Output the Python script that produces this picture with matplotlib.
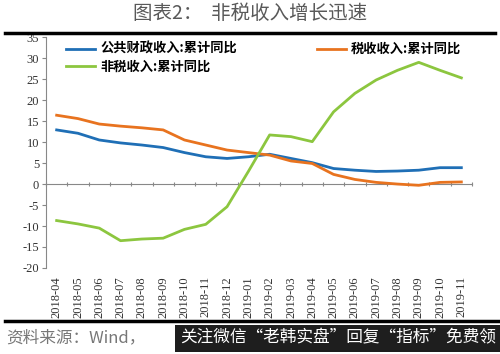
import matplotlib.pyplot as plt
import numpy as np

plt.rcParams["font.family"] = ["Noto Sans CJK SC", "DejaVu Sans"]

months = ["2018-04", "2018-05", "2018-06", "2018-07", "2018-08", "2018-09",
          "2018-10", "2018-11", "2018-12", "2019-01", "2019-02", "2019-03",
          "2019-04", "2019-05", "2019-06", "2019-07", "2019-08", "2019-09",
          "2019-10", "2019-11"]
public_rev = [12.9, 12.1, 10.5, 9.8, 9.3, 8.7, 7.5, 6.5, 6.1, 6.5,
              7.1, 6.1, 5.1, 3.7, 3.3, 3.0, 3.1, 3.3, 3.9, 3.9]
tax_rev = [16.4, 15.6, 14.3, 13.8, 13.4, 12.9, 10.5, 9.3, 8.1, 7.5,
           6.9, 5.5, 4.9, 2.3, 1.1, 0.4, 0.0, -0.3, 0.4, 0.5]
nontax_rev = [-8.7, -9.5, -10.5, -13.5, -13.1, -12.9, -10.8, -9.6, -5.4, 3.0,
              11.7, 11.3, 10.1, 17.2, 21.6, 24.8, 27.1, 29.0, 27.1, 25.3]
labels = ["公共财政收入:累计同比", "非税收入:累计同比", "税收收入:累计同比"]

fig = plt.figure(figsize=(5.0, 3.54), dpi=100)
ax = fig.add_axes([0.092, 0.243, 0.852, 0.652])

x = np.arange(len(months))
l1, = ax.plot(x, public_rev, color="#1f6fb6", lw=2.0, solid_joinstyle="round")
l3, = ax.plot(x, tax_rev, color="#e8731f", lw=2.0, solid_joinstyle="round")
l2, = ax.plot(x, nontax_rev, color="#8cc63f", lw=2.0, solid_joinstyle="round")

ax.set_xlim(-0.5, len(months) - 0.5)
ax.set_ylim(-20, 35)
ax.set_yticks(np.arange(-20, 36, 5))
ax.set_yticklabels([str(v) for v in range(-20, 36, 5)],
                   family="Liberation Serif", fontsize=9, color="#333333")
ax.set_xticks(x)
ax.set_xticklabels(months, rotation=90, family="Liberation Serif",
                   fontsize=9, color="#333333")
ax.tick_params(axis="x", length=0, pad=6)
ax.tick_params(axis="y", length=3, color="#888888", pad=2)
for s in ["top", "right", "bottom"]:
    ax.spines[s].set_visible(False)
ax.spines["left"].set_color("#888888")

# category axis crossing at zero
zero_ax = ax.secondary_xaxis(20 / 55)
zero_ax.set_xticks(np.arange(-0.5, len(months), 1.0))
zero_ax.set_xticklabels([])
zero_ax.tick_params(length=3, direction="inout", color="#888888")
zero_ax.spines["bottom"].set_color("#888888")

ax.legend([l1, l2, l3], labels, ncol=2, loc="upper left",
          bbox_to_anchor=(0.02, 1.03), frameon=False, handlelength=2.2,
          columnspacing=6.0, handletextpad=0.4, labelspacing=0.3,
          prop={"family": "Noto Sans CJK SC", "weight": "bold", "size": 9.5})

fig.text(0.5, 0.963, "图表2：  非税收入增长迅速", ha="center", va="center",
         fontsize=14, color="#595959")
fig.add_artist(plt.Line2D([0.01, 0.99], [0.908, 0.908], color="black", lw=2.5))
fig.add_artist(plt.Line2D([0.01, 0.995], [0.093, 0.093], color="black", lw=2.5))
fig.text(0.012, 0.045, "资料来源：Wind，", ha="left", va="center",
         fontsize=12, color="#777777", style="italic")
fig.text(0.36, 0.045, "关注微信“老韩实盘”回复“指标”免费领", ha="left",
         va="center", fontsize=12, color="white",
         bbox=dict(boxstyle="square,pad=0.3", fc="#1e1e1e", ec="none"))

fig.savefig("out.png", dpi=100)
